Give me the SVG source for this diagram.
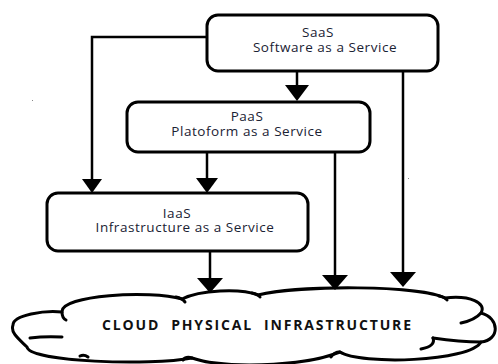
<svg xmlns="http://www.w3.org/2000/svg" width="498" height="364" viewBox="0 0 498 364">
<style>
.box{fill:#fff;stroke:#000;stroke-width:3}
.lbl{font-family:"Open Sans","Liberation Sans",sans-serif;font-size:13.5px;letter-spacing:0.55px;fill:#1a2233;text-anchor:middle}
.conn{fill:none;stroke:#000;stroke-width:2.5}
.head{fill:#000}
.cloud{fill:#fff;stroke:#000;stroke-width:3;stroke-linejoin:round;stroke-linecap:round}
.curl{fill:none;stroke:#000;stroke-width:3;stroke-linecap:round}
.ctext{font-family:"Open Sans","Liberation Sans",sans-serif;font-size:14px;font-weight:bold;fill:#111;text-anchor:middle}
</style>
<rect width="498" height="364" fill="#fff"/>
<g id="cloud">
<path class="cloud" d="M13,325 C13,315 45,310 62,312 C60,295 150,290 182,299 C200,290 240,288 258,295 C300,285 420,285 445,298 C470,295 487,303 481,313 C500,318 500,340 481,342 C470,362 360,365 340,352 C300,368 220,368 192,358 C150,366 30,362 27,347 C20,340 10,333 13,325 Z"/>
<path class="curl" d="M62,312 Q62,318 66,320"/>
<path class="curl" d="M30,338 Q45,336 62,337"/>
<path class="curl" d="M176,297 Q182,298 185,302"/>
<path class="curl" d="M252,293 Q258,294 260,297"/>
<path class="curl" d="M439,296 Q445,297 447,300"/>
<path class="curl" d="M481,313 Q475,320 461,323"/>
<path class="curl" d="M481,342 Q460,342 433,338"/>
<path class="curl" d="M433,338 Q436,346 421,349"/>
<path class="curl" d="M340,352 Q334,352 331,357"/>
<path class="curl" d="M192,358 Q186,356 183,360"/>
<path class="curl" d="M88,357 Q84,354 80,356"/>
<text class="ctext" x="256.5" y="330" xml:space="preserve" textLength="309" lengthAdjust="spacing">CLOUD  PHYSICAL  INFRASTRUCTURE</text>
</g>
<g id="connectors">
<path class="conn" d="M207,37 H92 V180"/>
<polygon class="head" points="82,179 102,179 92,193"/>
<path class="conn" d="M297,71 V86"/>
<polygon class="head" points="285,85 309,85 297,101"/>
<path class="conn" d="M207,152 V179"/>
<polygon class="head" points="196,178 218,178 207,193"/>
<path class="conn" d="M210,252 V279"/>
<polygon class="head" points="197,278 223,278 210,293"/>
<path class="conn" d="M335,152 V276"/>
<polygon class="head" points="322,275 348,275 335,290"/>
<path class="conn" d="M403,71 V273"/>
<polygon class="head" points="390,272 416,272 403,287"/>
</g>
<g id="saas">
<rect class="box" x="207" y="15" width="231" height="56" rx="11"/>
<text class="lbl" x="318" y="37">SaaS</text>
<text class="lbl" x="325" y="52">Software as a Service</text>
</g>
<g id="paas">
<rect class="box" x="127" y="102" width="243" height="50" rx="11"/>
<text class="lbl" x="247" y="121">PaaS</text>
<text class="lbl" x="247" y="136">Platoform as a Service</text>
</g>
<g id="iaas">
<rect class="box" x="47" y="193" width="261" height="58" rx="11"/>
<text class="lbl" x="177" y="218">IaaS</text>
<text class="lbl" x="185" y="232">Infrastructure as a Service</text>
</g>
<rect x="32" y="100" width="1" height="1" fill="#888"/>
<rect x="408" y="178" width="1" height="1" fill="#888"/>
</svg>
